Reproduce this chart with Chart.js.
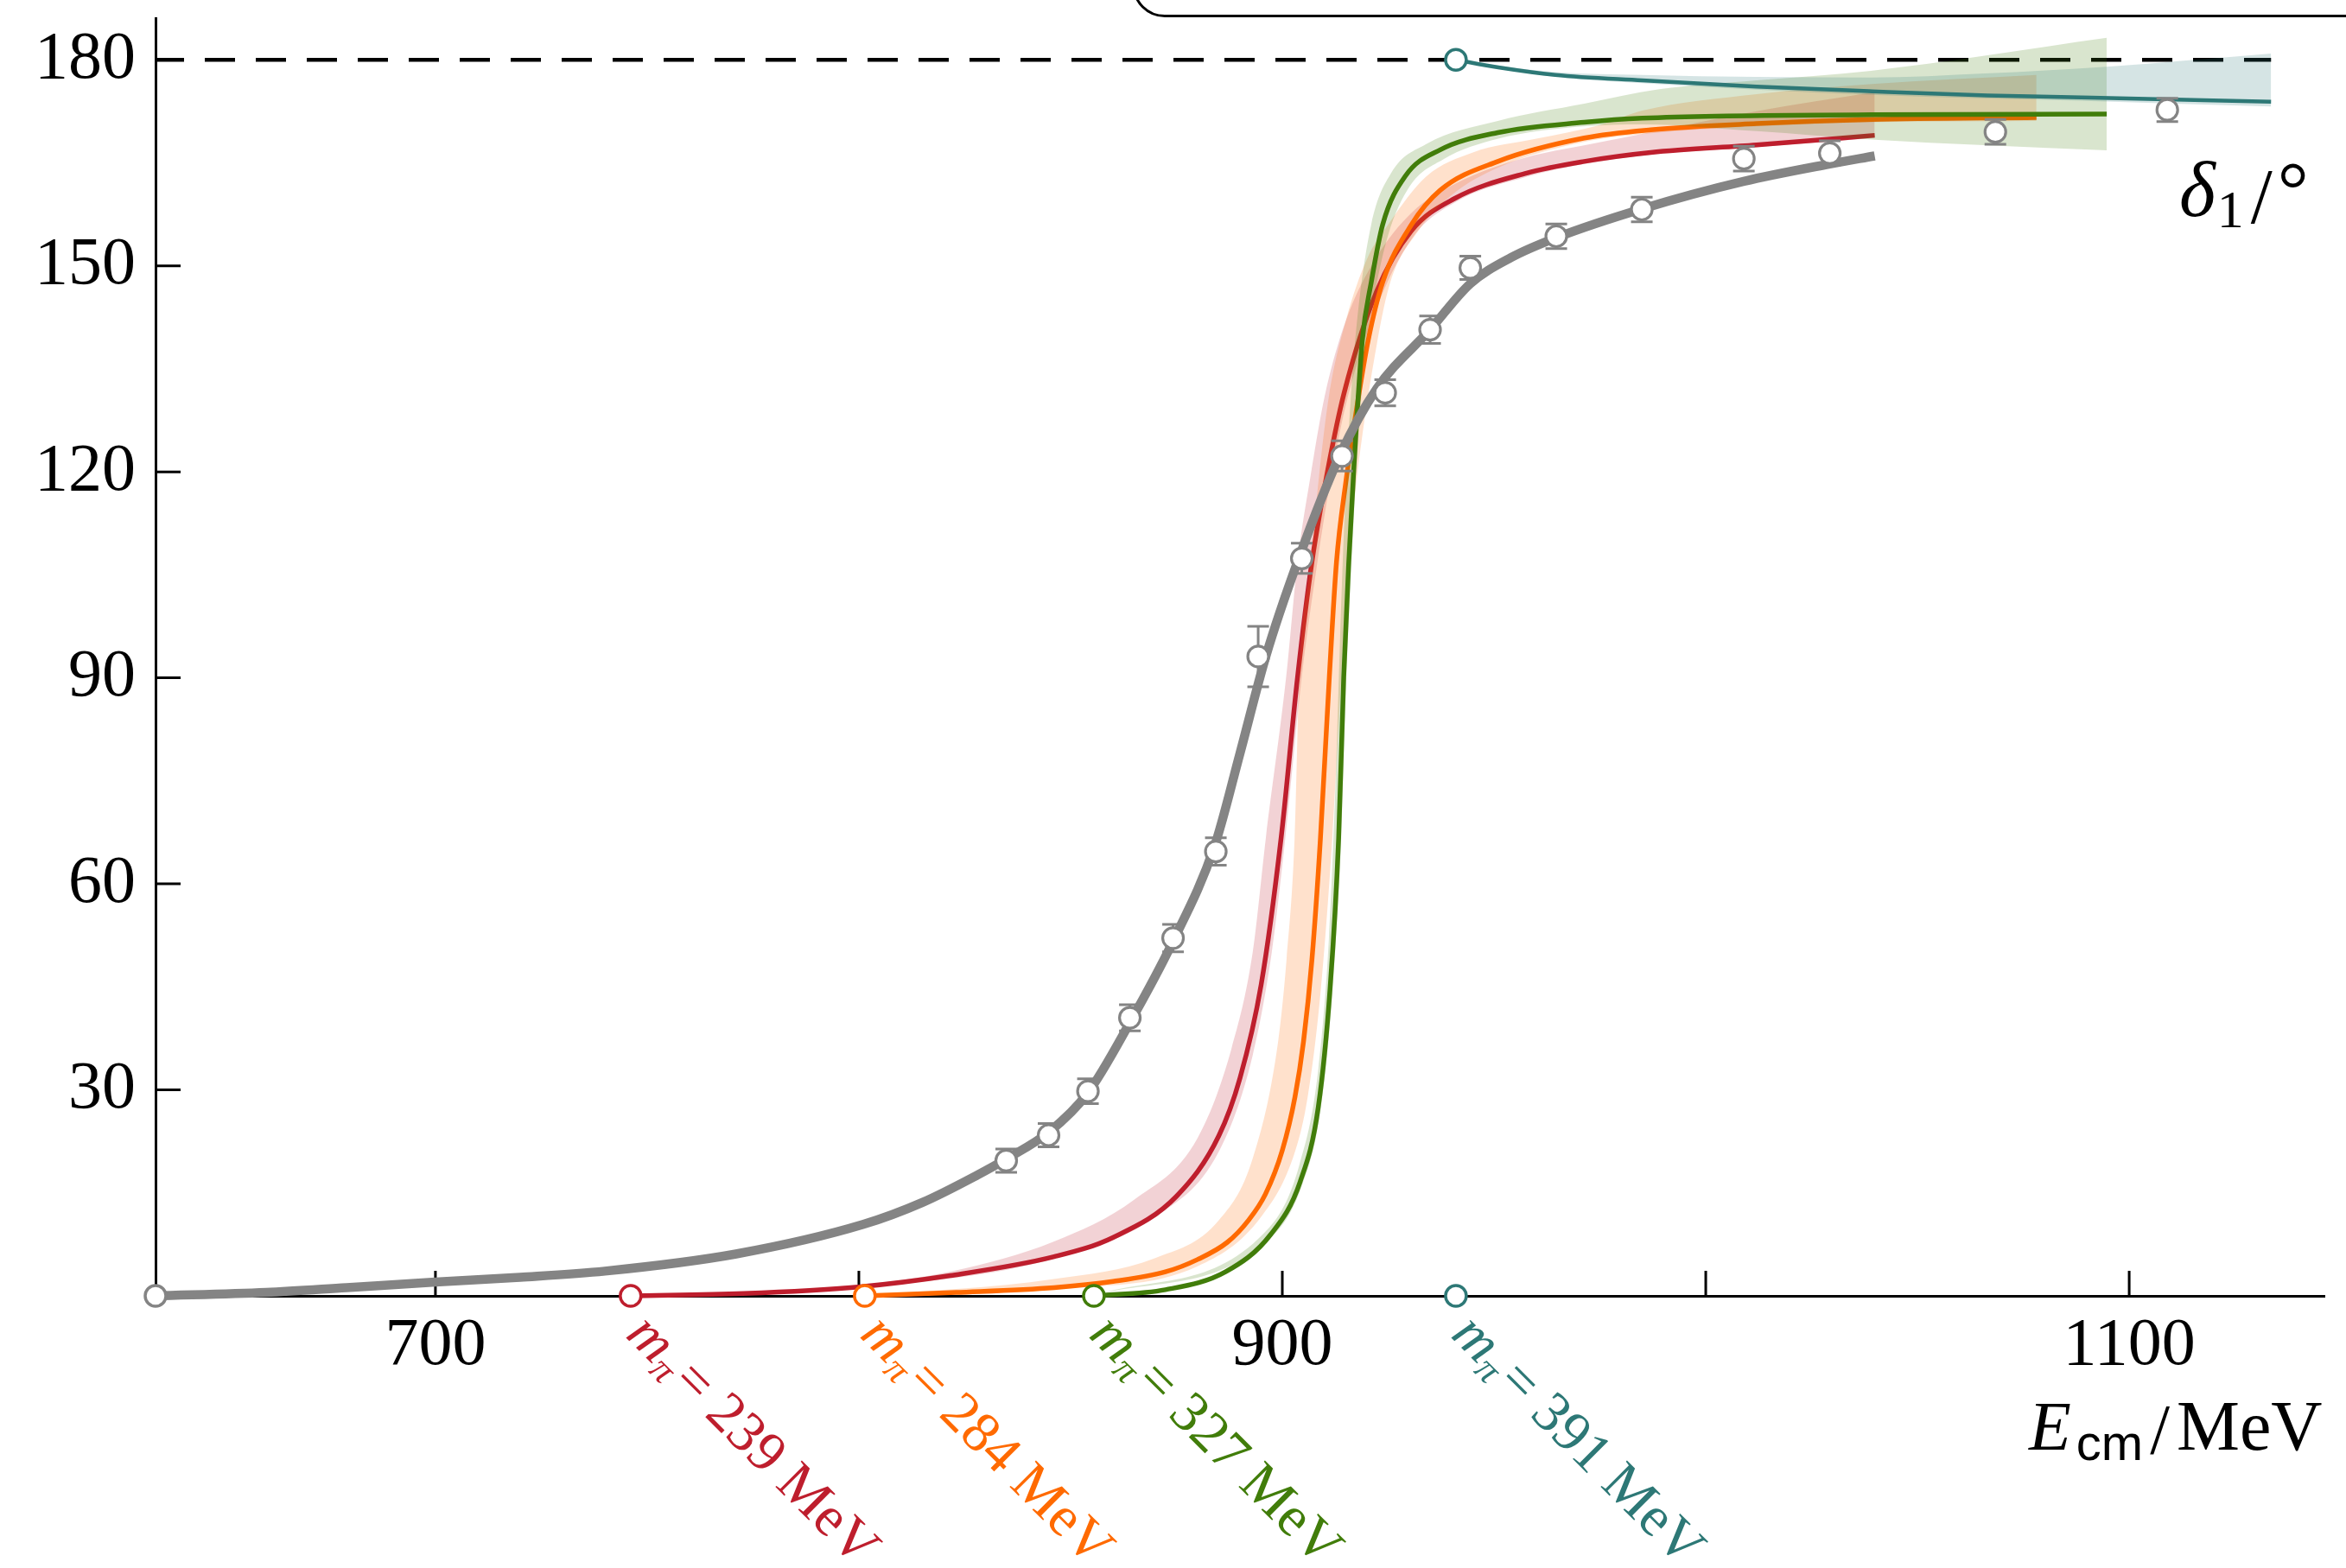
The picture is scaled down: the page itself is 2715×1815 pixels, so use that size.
<!DOCTYPE html>
<html><head><meta charset="utf-8">
<script src="https://cdn.jsdelivr.net/npm/chart.js@4.4.1/dist/chart.umd.min.js"></script>
<style>html,body{margin:0;padding:0;background:#fff;}canvas{display:block;}</style>
</head><body>
<canvas id="c" width="2715" height="1815"></canvas>
<script>
// ---------------- data (E_cm in MeV, delta_1 in degrees) ----------------
const xTickValues = [700, 800, 900, 1000, 1100];
const xLabelValues = [700, 900, 1100];
const yTickValues = [30, 60, 90, 120, 150, 180];

const grayE   = [834.8, 844.8, 854.1, 864.0, 874.2, 884.3, 894.3, 904.6, 914.1, 924.3, 934.9, 944.4, 964.7, 984.9, 1009.0, 1029.3, 1068.4, 1109.0];
const grayV   = [19.7, 23.4, 29.8, 40.5, 52.1, 64.7, 93.1, 107.4, 122.3, 131.5, 140.7, 149.7, 154.3, 158.2, 165.6, 166.4, 169.5, 172.7];
const grayErr = [1.7, 1.7, 1.8, 1.9, 2.0, 2.0, 4.4, 2.2, 2.2, 1.9, 2.0, 1.7, 1.8, 1.8, 1.8, 1.8, 1.8, 1.7];

const grayCurve = [[633.9,0],[660,0.5],[679,1.2],[700,2.0],[720,2.7],[740,3.6],[771,6.1],[801,10.4],[815,13.6],[828,17.6],[835,20.0],[845,23.9],[854,29.5],[864,39.8],[874,51.4],[884,65.5],[890,79],[896.1,93.1],[903.6,106.9],[913.6,122.4],[922.3,132.1],[934.9,140.7],[944.4,147.4],[954,151.2],[964.7,154.1],[985,158.3],[1009,162.3],[1029,164.8],[1039.9,166.0]];

const redCurve = [[746.1,0],[772.7,0.35],[799.8,1.3],[821.6,2.96],[846.1,5.7],[860,8.5],[875,14.5],[885,23.3],[890,31.7],[895,45.3],[899.7,66.6],[903.6,90.1],[907,106.9],[910.8,120.5],[914.6,131.5],[922.3,146.3],[930.5,155.1],[940.7,159.8],[957.7,163.5],[971.3,165.2],[987,166.5],[1012,167.6],[1039.9,169.0]];
const redUpper = [[746.1,0],[800,1.6],[822,3.6],[846,7.9],[865,14],[880,23],[888,36],[893,50],[896.1,66.6],[900.9,90.1],[903.6,106.9],[906.7,119.5],[910,131],[915,142],[922,151],[930.5,157.7],[941,162],[957.7,165.8],[971,167.5],[985,169.2],[1012,172.5],[1039.9,175.3]];
const redLower = [[746.1,0],[800,1.2],[846,5.4],[870,11.5],[885,21],[893,35],[897.5,50],[900.7,66.6],[904.6,90.1],[908.3,106.9],[911.6,119.5],[915.5,131],[923,145],[931,154.3],[941,159.3],[958,163],[971,164.8],[987,166.2],[1012,167.3],[1039.9,168.6]];

const orangeCurve = [[801.4,0],[823,0.5],[846.1,1.2],[860,2.1],[872.4,3.5],[880,5.3],[887,7.8],[892,11],[896,14.8],[900,21.2],[903,29],[905,37],[907,49],[909,66.6],[911.1,90.1],[912.8,106.9],[915,118.5],[917.5,129],[920.3,139.2],[923.7,147.6],[930.5,156.0],[937.3,161.0],[950.9,165.2],[971.3,168.6],[987,169.8],[1012,170.7],[1039.3,171.3],[1078.1,171.6]];
const orangeUpper = [[801.4,0],[846,2.45],[870,5.5],[885,11],[893,20],[899,37],[901,49],[902.9,66.6],[904,90],[906.7,106.9],[908.7,119.5],[911,131],[915,142],[920,151],[925,156],[934,163],[945,166.5],[960,168.5],[975,170.5],[985,172.6],[1012,175],[1040,176.5],[1078.1,177.8]];
const orangeLower = [[801.4,0],[846,1.0],[880,4.3],[895,11.5],[903,21],[906,29],[909,44],[911.8,66.6],[913.9,90],[915.6,106.9],[917.5,118.5],[922.5,139.2],[925.5,147.6],[932,155],[940,160.3],[951,164.3],[971,168],[987,169.3],[1012,170.3],[1039,170.9],[1078.1,171.1]];

const greenCurve = [[855.5,0],[872.4,0.9],[886.6,3.5],[897.2,8.9],[904.2,16.6],[908.5,27.5],[911.3,44.9],[913.3,66.6],[914.5,90.1],[915.7,106.9],[916.8,119.5],[918.9,139.2],[921,147.6],[923.7,156],[929.1,163.1],[937.3,166.9],[950.9,169.4],[971.3,170.9],[985,171.5],[1039.3,172.0],[1094.7,172.1]];
const greenUpper = [[855.5,0],[897,10],[904,19],[908.5,33],[911,52],[912.6,75],[913.6,95],[914.8,115],[916.3,132],[917.9,143.4],[921,156],[925.7,163.5],[933.9,167.7],[950.9,171.1],[971.3,173.6],[989,175.7],[1012,177],[1039,178.4],[1094.7,183.2]];
const greenLower = [[855.5,0],[897,8.3],[904.6,16],[909,27],[911.8,44],[913.9,66.6],[915,88],[916.2,105],[917.3,118],[919.5,137],[922,146.5],[925,154.5],[930,161.5],[938,165.5],[951,168.5],[971,170.3],[985,170.6],[1012,169.6],[1039,168.4],[1094.7,166.8]];

const tealCurve = [[941,180],[951,178.9],[964.5,177.8],[985,177.0],[1012,176.1],[1039.3,175.4],[1066.5,174.8],[1091,174.5],[1133.5,173.9]];
const tealUpper = [[941,180],[964.5,178.2],[985,177.8],[1012,177.5],[1039,177.4],[1066,178],[1094.7,179],[1133.5,180.9]];
const tealLower = [[941,180],[964.5,177.5],[985,176.6],[1039,174.9],[1091,174.0],[1133.5,173.2]];

const thresholdE = [633.9, 746.1, 801.4, 855.5, 941.0];
const pionMasses = ['239', '284', '327', '391'];
const unitarityLine = [[633.9,180],[1133.5,180]];

const xMin = 633.9, xMax = 1146.1, yMax = 186;

// ---------------- styles ----------------
const GRAY = '#848484', RED = '#BE1E2D', ORANGE = '#FF6A00', GREEN = '#417D0A', TEAL = '#2D7876';
const SERIES = [RED, ORANGE, GREEN, TEAL];
const BANDS = ['rgba(190,30,45,0.2)', 'rgba(255,106,0,0.2)', 'rgba(65,125,10,0.2)', 'rgba(45,120,118,0.2)'];
const SERIF = '"Liberation Serif", "Times New Roman", serif';

const pts = a => a.map(([x, y]) => ({x, y}));

function lineDs(data, color, width, order) {
  return {data: pts(data), borderColor: color, borderWidth: width, pointRadius: 0,
    cubicInterpolationMode: 'monotone', fill: false, order, clip: false, borderJoinStyle: 'round'};
}
function bandEdges(up, lo, color, order) {
  return [
    {data: pts(up), borderColor: 'rgba(0,0,0,0)', borderWidth: 0, backgroundColor: color, pointRadius: 0,
      cubicInterpolationMode: 'monotone', fill: '+1', order, clip: false},
    {data: pts(lo), borderColor: 'rgba(0,0,0,0)', borderWidth: 0, pointRadius: 0,
      cubicInterpolationMode: 'monotone', fill: false, order, clip: false}
  ];
}

const datasets = [
  {label: 'unitarity', data: pts(unitarityLine), borderColor: '#000', borderWidth: 4.5, borderDash: [35, 24],
    borderDashOffset: 2, pointRadius: 0, fill: false, order: 20, clip: false},
  ...bandEdges(redUpper, redLower, BANDS[0], 19),
  lineDs(redCurve, RED, 5.5, 18),
  ...bandEdges(orangeUpper, orangeLower, BANDS[1], 17),
  lineDs(orangeCurve, ORANGE, 5.5, 16),
  ...bandEdges(greenUpper, greenLower, BANDS[2], 15),
  lineDs(greenCurve, GREEN, 5.5, 14),
  ...bandEdges(tealUpper, tealLower, BANDS[3], 13),
  lineDs(tealCurve, TEAL, 4.5, 12),
  lineDs(grayCurve, GRAY, 10.5, 3),
  {label: 'grayPts', data: grayE.map((e, i) => ({x: e, y: grayV[i]})), showLine: false,
    pointRadius: 12, pointBorderWidth: 3.2, pointBackgroundColor: '#fff', pointBorderColor: GRAY,
    order: 2, clip: false},
  {label: 'thresholds', data: thresholdE.map(e => ({x: e, y: 0})).concat([{x: tealCurve[0][0], y: tealCurve[0][1]}]),
    showLine: false, pointRadius: 12, pointBorderWidth: 3.5, pointBackgroundColor: '#fff',
    pointBorderColor: [GRAY, RED, ORANGE, GREEN, TEAL, TEAL], order: 1, clip: false}
];

// ---------------- plugins ----------------
const errorBars = {
  id: 'errorBars',
  beforeDatasetDraw(chart, args) {
    if (chart.data.datasets[args.index].label !== 'grayPts') return;
    const c = chart.ctx, xs = chart.scales.x, ys = chart.scales.y;
    c.save(); c.strokeStyle = GRAY; c.lineWidth = 3;
    grayE.forEach((e, i) => {
      const px = xs.getPixelForValue(e);
      const y1 = ys.getPixelForValue(grayV[i] + grayErr[i]);
      const y2 = ys.getPixelForValue(grayV[i] - grayErr[i]);
      c.beginPath();
      c.moveTo(px, y1); c.lineTo(px, y2);
      c.moveTo(px - 12.5, y1); c.lineTo(px + 12.5, y1);
      c.moveTo(px - 12.5, y2); c.lineTo(px + 12.5, y2);
      c.stroke();
    });
    c.restore();
  }
};

const innerTicks = {
  id: 'innerTicks',
  beforeDatasetsDraw(chart) {
    const c = chart.ctx, xs = chart.scales.x, ys = chart.scales.y, a = chart.chartArea;
    c.save(); c.strokeStyle = '#000'; c.lineWidth = 3; c.beginPath();
    yTickValues.forEach(v => { const py = ys.getPixelForValue(v); c.moveTo(a.left, py); c.lineTo(a.left + 29, py); });
    xTickValues.forEach(v => { const px = xs.getPixelForValue(v); c.moveTo(px, a.bottom); c.lineTo(px, a.bottom - 29); });
    c.stroke(); c.restore();
  }
};

const decorations = {
  id: 'decorations',
  afterDraw(chart) {
    const c = chart.ctx, xs = chart.scales.x, ys = chart.scales.y;
    c.save();
    // cut-off legend frame at the top
    c.strokeStyle = '#000'; c.lineWidth = 3;
    c.beginPath();
    c.roundRect(1312, -150, 1600, 168.5, 36);
    c.stroke();

    // x-axis title: E_cm / MeV
    c.fillStyle = '#000'; c.textAlign = 'left'; c.textBaseline = 'alphabetic';
    let x = 2348; const yb = 1678;
    c.font = 'italic 80px ' + SERIF; c.fillText('E', x, yb); x += c.measureText('E').width + 6;
    c.font = '58px "Liberation Sans", Arimo, sans-serif'; c.fillText('cm', x, yb + 12); x += c.measureText('cm').width + 8;
    c.font = '82px ' + SERIF; c.fillText('/', x, yb + 4); x += c.measureText('/').width + 8;
    c.fillText('MeV', x, yb);

    // y-axis title: delta_1 / deg
    x = 2522; const yb2 = 250;
    c.font = 'italic 90px ' + SERIF; c.fillText('δ', x, yb2); x += c.measureText('δ').width + 2;
    c.font = '62px ' + SERIF; c.fillText('1', x, yb2 + 13); x += c.measureText('1').width + 8;
    c.font = '90px ' + SERIF; c.fillText('/', x, yb2 + 8); x += c.measureText('/').width + 6;
    c.fillText('°', x, yb2);

    // rotated pion-mass labels under the threshold markers
    const y0 = ys.getPixelForValue(0);
    pionMasses.forEach((m, i) => {
      const px = xs.getPixelForValue(thresholdE[i + 1]);
      c.save();
      c.translate(px, y0); c.rotate(Math.PI / 4);
      c.fillStyle = SERIES[i]; c.textAlign = 'left'; c.textBaseline = 'alphabetic';
      let t = 28; const b = 38;
      c.font = 'italic 66px ' + SERIF; c.fillText('m', t, b); t += c.measureText('m').width;
      c.font = 'italic 44px ' + SERIF; c.fillText('π', t, b + 10); t += c.measureText('π').width + 6;
      c.font = '66px ' + SERIF; c.fillText('= ' + m + ' MeV', t, b);
      c.restore();
    });
    c.restore();
  }
};

new Chart(document.getElementById('c').getContext('2d'), {
  type: 'line',
  data: {datasets},
  options: {
    responsive: false, animation: false, devicePixelRatio: 1,
    layout: {padding: {top: 21.5, right: 25, left: 0, bottom: 0}},
    plugins: {legend: {display: false}, tooltip: {enabled: false}, filler: {propagate: false}},
    events: [],
    scales: {
      x: {
        type: 'linear', position: 'bottom', min: xMin, max: xMax,
        grid: {display: false, drawTicks: false},
        border: {display: true, color: '#000', width: 3},
        ticks: {font: {family: SERIF, size: 78}, color: '#000', padding: 12, maxRotation: 0, autoSkip: false,
          callback: v => xLabelValues.includes(v) ? String(v) : ''},
        afterBuildTicks: s => { s.ticks = xTickValues.map(v => ({value: v})); },
        afterFit: s => { s.height = 315; s.paddingLeft = 0; s.paddingRight = 0; }
      },
      y: {
        type: 'linear', position: 'left', min: 0, max: yMax,
        grid: {display: false, drawTicks: false},
        border: {display: true, color: '#000', width: 3},
        ticks: {font: {family: SERIF, size: 78}, color: '#000', padding: 23, callback: v => String(v)},
        afterBuildTicks: s => { s.ticks = yTickValues.map(v => ({value: v})); },
        afterFit: s => { s.width = 180; s.paddingTop = 0; s.paddingBottom = 0; }
      }
    }
  },
  plugins: [errorBars, innerTicks, decorations]
});
</script>
</body></html>
